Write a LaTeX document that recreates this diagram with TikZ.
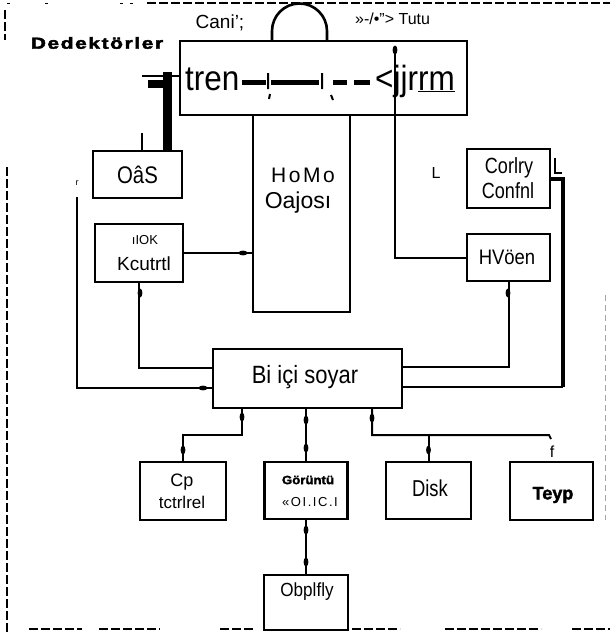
\documentclass[tikz,border=0pt]{standalone}
\usepackage{fontspec}
\usepackage{graphicx}
\setmainfont{Liberation Sans}
\newfontfamily\dedfont[LetterSpace=8,FakeBold=2.5]{Liberation Sans Bold}
\newfontfamily\spfont[LetterSpace=12]{Liberation Sans}
\newfontfamily\heavyfont[FakeBold=2]{Liberation Sans Bold}
\usetikzlibrary{calc}
\newcommand\fs[1]{\fontsize{#1}{#1}\selectfont}
\newcommand\cx[2]{\scalebox{#1}[1]{#2}}
\newcommand\vd[2]{\fill (#1,#2) ellipse [x radius=2.4pt, y radius=4.5pt];}
\newcommand\hd[2]{\fill (#1,#2) ellipse [x radius=4.5pt, y radius=2.4pt];}
\begin{document}
\begin{tikzpicture}[x=1pt,y=-1pt,
  box/.style={draw,line width=2.6pt,inner sep=0pt},
  conn/.style={line width=2pt},
  lbl/.style={inner sep=0pt},
  frame/.style={line width=1.1pt,dash pattern=on 9pt off 3pt}]
\useasboundingbox (0,0) rectangle (610,632);
\fill[white] (0,0) rectangle (610,632);

% scan frame
\draw[frame] (147,3) -- (610,3);
\draw[frame] (5,10) -- (5,40);
\draw[frame] (7,167) -- (7,632);
\draw[line width=0.8pt,gray!70,dash pattern=on 6pt off 4pt] (605,295) -- (605,520);
\foreach \a/\b in {29/82,99/160,220/253,352/400,445/541,572/610}
  \draw[frame] (\a,629) -- (\b,629);
\foreach \a in {7,45,120,130}
  \draw[line width=1pt] (\a,3) -- (\a+3,3);

% boxes
\node[box,minimum width=287pt,minimum height=74pt] (main) at (323.5,78) {};
\node[box,minimum width=97pt,minimum height=197pt] (homo) at (301.5,213.5) {};
\node[box,minimum width=89pt,minimum height=47pt] (oas) at (137.5,174.5) {};
\node[box,minimum width=88pt,minimum height=58pt] (iok) at (139,253) {};
\node[box,minimum width=83pt,minimum height=59pt] (corl) at (508.5,178.5) {};
\node[box,minimum width=83pt,minimum height=47pt] (hvoen) at (508.5,257.5) {};
\node[box,minimum width=189pt,minimum height=59pt] (bi) at (307.5,378.5) {};
\node[box,minimum width=86pt,minimum height=58pt] (cp) at (183,491) {};
\node[box,minimum width=83pt,minimum height=57pt] (gor) at (306,490.5) {};
\node[box,minimum width=85pt,minimum height=57pt] (disk) at (428.5,490.5) {};
\node[box,minimum width=83pt,minimum height=58pt] (teyp) at (551.5,491) {};
\node[box,minimum width=84pt,minimum height=55pt] (obp) at (306,602.5) {};

% top arc on main box
\draw[line width=2.6pt] (272,41) -- (272,31) arc[start angle=180,end angle=0,radius=27.5pt] -- (327,41);

% texts
\node[lbl] (ded) at (97,43) {\cx{1.3}{\dedfont\fs{16}Dedektörler}};
\node[lbl] (cani) at (220,23) {\fs{19}Cani';};
\node[lbl,anchor=west] (tutu) at (355,19) {\fs{16}»-/•"> Tutu};
\node[lbl,anchor=base west] (tren) at (185,90) {\cx{0.9}{\fs{35}tren}};
\node[lbl,anchor=base west] (jr) at (375,90) {\cx{0.9}{\fs{35}<jjr\underline{rm}}};
\node[lbl] (oast) at (137.5,175) {\cx{0.85}{\fs{24}OâS}};
\node[lbl] (iokt1) at (145,240) {\fs{13}ıIOK};
\node[lbl] (iokt2) at (144,264) {\fs{19}Kcutrtl};
\node[lbl] (homot1) at (303,175) {\spfont\fs{21}HoMo};
\node[lbl] (homot2) at (298,203) {\fs{23}Oajosı};
\node[lbl] (lt) at (436,173) {\fs{16}L};
\node[lbl] (corlt1) at (509,168) {\cx{0.82}{\fs{22}Corlry}};
\node[lbl] (corlt2) at (508,191) {\cx{0.82}{\fs{22}Confnl}};
\node[lbl] (hvt) at (507,257) {\cx{0.88}{\fs{21}HVöen}};
\node[lbl] (bit) at (305,377) {\cx{0.88}{\fs{25}Bi içi soyar}};
\node[lbl] (cpt1) at (182,482) {\fs{18}Cp};
\node[lbl] (cpt2) at (182,502) {\fs{17}tctrlrel};
\node[lbl] (gort1) at (308,480) {\cx{1.1}{\heavyfont\fs{12}Görüntü}};
\node[lbl] (gort2) at (310,502) {\spfont\fs{13}«OI.IC.I};
\node[lbl] (diskt) at (430,488) {\cx{0.8}{\fs{23}Disk}};
\node[lbl] (teypt) at (553,495) {\heavyfont\fs{18}Teyp};
\node[lbl] (ft) at (552,452) {\fs{16}f};
\node[lbl] (obpt) at (307,592) {\cx{0.9}{\fs{19}Obplfly}};
\node[lbl] (rt) at (77,183) {\fs{9}r};

% line inside main box
\draw[line width=5pt] (242,82) -- (266,82) (271,82) -- (319,82)
  (333,82) -- (347,82) (354,82) -- (370,82);
\draw[line width=2pt] (268,73) -- (268,89) (322,73) -- (322,89)
  (270,94) -- (269,99) (331,95) -- (333,100);

% T shape from main to OaS
\coordinate (tt) at (167.5,72);
\coordinate (y76) at (0,76);
\draw[line width=9pt] (tt) -- (tt |- oas.north);
\fill (148,80) rectangle (166,88);
\draw[line width=2pt] (142,76) -- (y76 -| main.west);
\coordinate (stub) at (142,133);
\draw[line width=1.5pt] (stub) -- (stub |- oas.north);

% connectors
\draw[conn] (iok.east) -- (homo.west |- iok.east);
\hd{243}{253}

\coordinate (jtop) at (395,50);
\draw[conn] (jtop) -- (jtop |- hvoen.west) -- (hvoen.west);
\vd{395}{50}

\coordinate (rc) at (563,387);
\draw[line width=4pt] (corl.east) -| (rc);
\draw[conn] (rc) -- (rc -| bi.east);
\draw[line width=1.5pt] (555,158) -- (555,173) -- (562,173);

\coordinate (y367) at (0,367);
\coordinate (y368) at (0,368);
\coordinate (y388) at (0,388);
\coordinate (y435) at (0,435);
\draw[conn] (hvoen.south) |- (y367 -| bi.east);
\vd{508}{293}
\draw[conn] (iok.south) |- (y368 -| bi.west);
\vd{140}{293}
\coordinate (ltop) at (77,197);
\draw[line width=2.6pt] (ltop) |- (y388 -| bi.west);
\hd{203}{388}

\coordinate (b1) at (242,408);
\coordinate (b3) at (372,408);
\draw[conn] (b1) -- (b1 |- y435) -| (cp.north);
\draw[conn] (gor.north |- bi.south) -- (gor.north);
\draw[conn] (b3) -- (b3 |- y435) -- (549,435) -- (551,439);
\draw[conn] (disk.north |- y435) -- (disk.north);
\draw[conn] (gor.south) -- (obp.north);
\vd{242}{417} \vd{306}{420} \vd{372}{418}
\vd{183}{450} \vd{306}{448} \vd{428.5}{450}
\vd{306}{530} \vd{306}{562}
\end{tikzpicture}
\end{document}
